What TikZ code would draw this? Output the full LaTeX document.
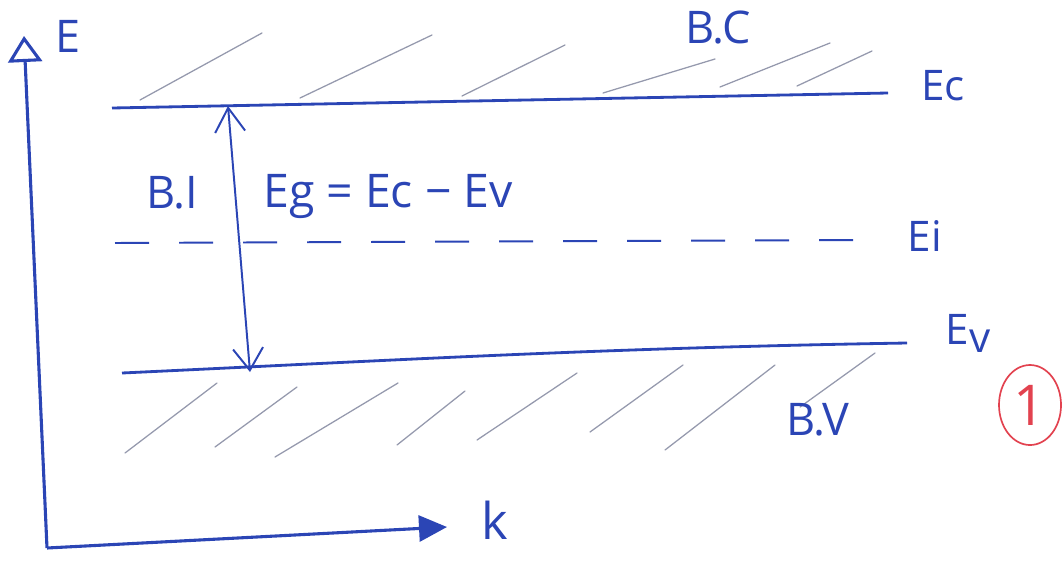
\documentclass[tikz,border=0pt]{standalone}
\usepackage{fontspec}
\setmainfont{Open Sans}
\usetikzlibrary{arrows.meta,positioning,shapes.geometric}
\definecolor{ink}{HTML}{2B45B5}
\definecolor{pencil}{HTML}{9599AD}
\definecolor{mark}{HTML}{E2424F}

\begin{document}
\begin{tikzpicture}[x=0.025cm, y=-0.025cm, every node/.style={text=ink, inner sep=0pt},
    lbl/.style={font=\fontsize{30}{36}\selectfont},
    axis/.style={draw=ink, line width=2.2pt},
    band/.style={draw=ink, line width=2pt},
    hatch/.style={draw=pencil, line width=0.9pt, line cap=round}]
    \useasboundingbox (0,0) rectangle (1062,560);
    \coordinate (origin) at (47,548);
    \coordinate (etop) at (24,36);
    \coordinate (ktip) at (447,527);
    \coordinate (ecL) at (112,108); \coordinate (ecR) at (888,93);
    \coordinate (eiL) at (115,243); \coordinate (eiR) at (868,240);
    \coordinate (evL) at (122,373); \coordinate (evR) at (907,343);
    \coordinate (gapTop) at (228,106); \coordinate (gapBot) at (250,372);
    \draw[axis,-{Triangle[open,length=0.65cm,width=0.85cm]}] (origin) -- (etop);
    \draw[axis,-{Triangle[length=0.7cm,width=0.65cm]}] (origin) -- (ktip);
    \node[lbl,font=\fontsize{32}{38}\selectfont] (elab) at (68,36) {E};
    \node[lbl,font=\fontsize{36}{42}\selectfont] (klab) at (495,520) {k};
    \foreach \a/\b/\c/\d in {140/100/262/33, 300/98/432/35, 462/96/565/45, 603/93/715/59, 720/87/830/43, 797/86/872/51,
        125/453/217/383, 215/447/297/387, 275/457/398/383, 397/445/465/391, 477/440/577/373, 590/432/683/365, 665/450/775/365, 800/407/875/353}
        \draw[hatch] (\a,\b) -- (\c,\d);
    \draw[band] (ecL) -- (ecR);
    \draw[ink, line width=1.4pt, dash pattern=on 0.85cm off 0.75cm] (eiL) -- (eiR);
    \draw[band] (evL) .. controls (400,360) and (600,348) .. (evR);
    \draw[ink, line width=1.4pt, {Straight Barb[length=0.6cm,width=0.75cm]}-{Straight Barb[length=0.55cm,width=0.75cm]}] (gapTop) -- (gapBot);
    \node[lbl] (ec) at (943,86) {Ec};
    \node[lbl] (ei) at (925,236) {Ei};
    \node[lbl] (ev) at (968,333) {E\raisebox{-.35ex}{v}};
    \node[lbl,font=\fontsize{32}{38}\selectfont] (bc) at (718,28) {B.C};
    \node[lbl,font=\fontsize{32}{38}\selectfont] (bi) at (172,193) {B.I};
    \node[lbl,font=\fontsize{32}{38}\selectfont] (bv) at (818,420) {B.V};
    \node[lbl,font=\fontsize{33}{39}\selectfont] (gap) at (388,197) {Eg = Ec − Ev};
    \node[ellipse, draw=mark, text=mark, line width=1.2pt, minimum width=1.55cm, minimum height=2cm, font=\fontsize{40}{46}\selectfont] (num) at (1030,405) {1};
\end{tikzpicture}
\end{document}
